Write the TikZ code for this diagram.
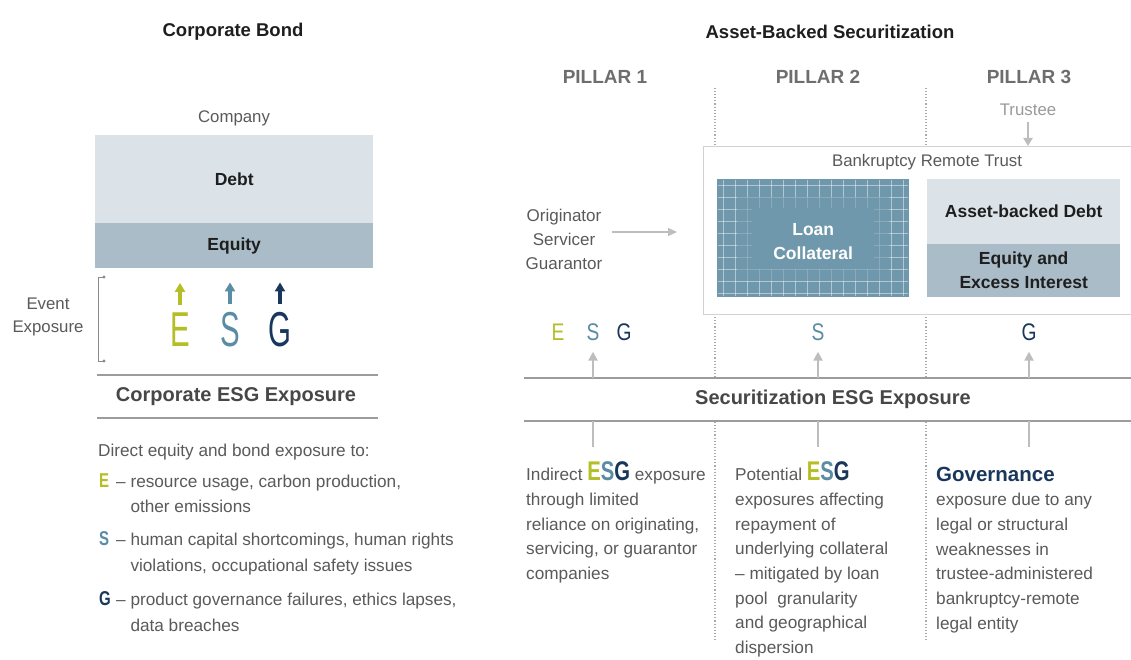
\documentclass[tikz,border=0pt]{standalone}
\usepackage{fontspec}
\setmainfont{Liberation Sans}
\newfontfamily\condbig{Liberation Sans}[FakeStretch=0.6]
\newfontfamily\condmid{Liberation Sans}[FakeStretch=0.8]
\newfontfamily\condb{Liberation Sans}[FakeStretch=0.75]
\usetikzlibrary{arrows.meta}
\definecolor{cE}{HTML}{B4BE25}
\definecolor{cS}{HTML}{5A8CA4}
\definecolor{cG}{HTML}{18375B}
\definecolor{txt}{HTML}{5A5A5A}
\definecolor{dark}{HTML}{1E1E1E}
\definecolor{hdrc}{HTML}{474747}
\definecolor{pil}{HTML}{6E6E6E}
\definecolor{debtc}{HTML}{DCE3E8}
\definecolor{eqc}{HTML}{A9BCC7}
\definecolor{loanc}{HTML}{7098AD}
\definecolor{rulec}{HTML}{9C9C9C}
\definecolor{arr}{HTML}{BDBDBD}
\definecolor{dotc}{HTML}{ABABAB}
\definecolor{trb}{HTML}{D2D2D2}
\definecolor{trc}{HTML}{9A9A9A}
\definecolor{brk}{HTML}{8A8A8A}
\newcommand\esgword{{\condb\bfseries\fontsize{27}{24.7}\selectfont\textcolor{cE}{E}\textcolor{cS}{S}\textcolor{cG}{G}}}
\newcommand\ltr[2]{\makebox[17pt][l]{\condb\bfseries\fontsize{20}{25}\selectfont\textcolor{#1}{#2}}}
\begin{document}
\begin{tikzpicture}[x=1pt,y=-1pt,
  body/.style={font=\fontsize{17.2}{25.3}\selectfont, text=txt, inner sep=0pt, align=left},
  colt/.style={font=\fontsize{17.2}{24.7}\selectfont, text=txt, inner sep=0pt, align=left},
  ttl/.style={font=\bfseries\fontsize{18.5}{20}\selectfont, text=dark, inner sep=0pt},
  hdr/.style={font=\bfseries\fontsize{20}{22}\selectfont, text=hdrc, inner sep=0pt},
  pillar/.style={font=\bfseries\fontsize{19}{21}\selectfont, text=pil, inner sep=0pt},
  lbl/.style={font=\fontsize{16.8}{23}\selectfont, text=txt, inner sep=0pt, align=center},
  box/.style={inner sep=0pt, anchor=north west, font=\bfseries\fontsize{17.5}{24}\selectfont, text=dark, align=center},
  rulel/.style={draw=rulec, line width=1.6pt},
  dots/.style={draw=dotc, line width=1.1pt, dotted},
  uparr/.style={draw=arr, line width=2.4pt, -{Triangle[width=9pt,length=9pt]}},
  stub/.style={draw=arr, line width=2pt},
  gridl/.style={draw=white, opacity=0.45, line width=0.7pt},
  bigl/.style={font=\condbig\fontsize{49}{49}\selectfont, inner sep=0pt},
  midl/.style={font=\condmid\fontsize{24}{24}\selectfont, inner sep=0pt},
]
\useasboundingbox[fill=white] (0,0) rectangle (1131,660);

% ---------------- Corporate Bond ----------------
\node[ttl] (cbt) at (233,32) {Corporate Bond};
\node[lbl] (comp) at (234,118) {Company};
\node[box, fill=debtc, minimum width=278pt, minimum height=88pt] (debt) at (95,135) {Debt};
\node[box, fill=eqc, minimum width=278pt, minimum height=45pt] (equity) at (95,223) {Equity};

\coordinate (bt) at (104,277);
\coordinate (bb) at (104,361);
\draw[draw=brk, line width=1pt] (bt) -- (98,277) -- (98,361) -- (bb);
\fill[brk] (bt) circle (1.6);
\fill[brk] (bb) circle (1.6);
\node[lbl] (ev) at (48,317) {Event\\Exposure};

\node[bigl, text=cE] (bE) at (180,330) {E};
\node[bigl, text=cS] (bS) at (230,330) {S};
\node[bigl, text=cG] (bG) at (280,330) {G};
\draw[cE, line width=4pt, -{Triangle[width=10pt,length=9pt]}] ([yshift=8pt]bE.north) -- ++(0,-22);
\draw[cS, line width=4pt, -{Triangle[width=10pt,length=9pt]}] ([yshift=8pt]bS.north) -- ++(0,-22);
\draw[cG, line width=4pt, -{Triangle[width=10pt,length=9pt]}] ([yshift=8pt]bG.north) -- ++(0,-22);

\draw[rulel] (97,375) -- (378,375);
\node[hdr] (ceh) at (236,397) {Corporate ESG Exposure};
\draw[rulel] (97,418) -- (378,418);

\node[body, anchor=north west] (intro) at (98,443.7) {Direct equity and bond exposure to:};
\node[body, anchor=north west] (itE) at (99,473.7) {\ltr{cE}{E}-- resource usage, carbon production,\\\hspace*{31.3pt}other emissions};
\node[body, anchor=north west] (itS) at (99,531.7) {\ltr{cS}{S}-- human capital shortcomings, human rights\\\hspace*{31.3pt}violations, occupational safety issues};
\node[body, anchor=north west] (itG) at (99,591.7) {\ltr{cG}{G}-- product governance failures, ethics lapses,\\\hspace*{31.3pt}data breaches};

% ---------------- Asset-Backed Securitization ----------------
\node[ttl] (abt) at (830,32) {Asset-Backed Securitization};
\node[pillar] (p1) at (605,77) {PILLAR 1};
\node[pillar] (p2) at (818,77) {PILLAR 2};
\node[pillar] (p3) at (1029,77) {PILLAR 3};

\draw[dots] (715,88) -- (715,146);
\draw[dots] (926,88) -- (926,146);
\draw[dots] (715,314) -- (715,377);
\draw[dots] (926,314) -- (926,377);
\draw[dots] (715,422) -- (715,640);
\draw[dots] (926,422) -- (926,640);

\node[lbl, text=trc] (trustee) at (1028,110) {Trustee};
\node[draw=trb, fill=white, line width=1pt, anchor=north west, minimum width=440pt, minimum height=168pt, inner sep=0pt] (trust) at (703,146) {};
\draw[draw=arr, line width=2pt, -{Triangle[width=9pt,length=8pt]}] ([yshift=-6pt]trustee.south) -- (trustee.south |- trust.north);
\node[lbl] (brt) at (927,162) {Bankruptcy Remote Trust};

\node[anchor=north west, fill=loanc, minimum width=192pt, minimum height=118pt, inner sep=0pt] (loan) at (717,179) {};
\foreach \x in {723,735,...,903} \draw[gridl] (\x,180) -- (\x,296);
\foreach \y in {185,197,...,293} \draw[gridl] (718,\y) -- (908,\y);
\fill[loanc, opacity=0.6] (737,197) rectangle (889,281);
\fill[loanc] (752,208) rectangle (874,269);
\node[box, anchor=center, text=white] (loant) at ([yshift=-3pt]loan.center) {Loan\\Collateral};

\node[box, fill=debtc, minimum width=193pt, minimum height=65pt] (abd) at (927,179) {Asset-backed Debt};
\node[box, fill=eqc, minimum width=193pt, minimum height=53pt] (eei) at (927,244) {Equity and\\Excess Interest};

\node[lbl, font=\fontsize{17}{24}\selectfont] (orig) at (564,239) {Originator\\Servicer\\Guarantor};
\coordinate (oa) at (677,232);
\draw[draw=arr, line width=1.3pt, -{Triangle[width=8pt,length=9pt]}] ([xshift=10pt,yshift=7pt]orig.east) -- (oa);

\node[midl, text=cE] (sE) at (558,332) {E};
\node[midl, text=cS] (sS) at (593,332) {S};
\node[midl, text=cG] (sG) at (624,332) {G};
\node[midl, text=cS] (pS) at (818,332) {S};
\node[midl, text=cG] (pG) at (1029,332) {G};

\coordinate (ruleA) at (524,378);
\coordinate (ruleB) at (524,421);
\draw[rulel] (ruleA) -- (1131,378);
\node[hdr] (seh) at (833,399) {Securitization ESG Exposure};
\draw[rulel] (ruleB) -- (1131,421);

\draw[uparr] (sS |- ruleA) -- ([yshift=-11pt]sS.south);
\draw[uparr] (pS |- ruleA) -- ([yshift=-11pt]pS.south);
\draw[uparr] (pG |- ruleA) -- ([yshift=-11pt]pG.south);
\draw[stub] (sS |- ruleB) -- ++(0,26);
\draw[stub] (pS |- ruleB) -- ++(0,26);
\draw[stub] (pG |- ruleB) -- ++(0,26);

\node[colt, anchor=north west] (c1) at (526,461.7) {Indirect \esgword{} exposure\\through limited\\reliance on originating,\\servicing, or guarantor\\companies};
\node[colt, anchor=north west] (c2) at (735,461.7) {Potential \esgword\\exposures affecting\\repayment of\\underlying collateral\\-- mitigated by loan\\pool\ \ granularity\\and geographical\\dispersion};
\node[colt, anchor=north west] (c3) at (936,466.5) {{\bfseries\fontsize{20.5}{24.7}\selectfont\color{cG}Governance}\\exposure due to any\\legal or structural\\weaknesses in\\trustee-administered\\bankruptcy-remote\\legal entity};
\end{tikzpicture}
\end{document}
